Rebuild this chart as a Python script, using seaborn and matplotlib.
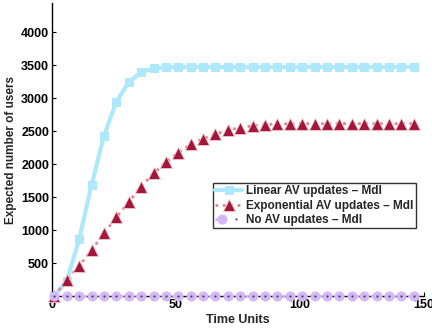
import matplotlib
matplotlib.use("Agg")
import matplotlib.pyplot as plt
import seaborn as sns
import pandas as pd
from matplotlib.legend_handler import HandlerTuple

sns.set_style("white")
plt.rcParams['font.family'] = ['Liberation Sans', 'DejaVu Sans']
plt.rcParams['font.weight'] = 'bold'

time_units = [1, 6, 11, 16, 21, 26, 31, 36, 41, 46, 51, 56, 61, 66, 71,
              76, 81, 86, 91, 96, 101, 106, 111, 116, 121, 126, 131, 136, 141, 146]
linear_av = [0, 230, 859, 1682, 2424, 2944, 3242, 3389, 3450, 3465, 3470, 3470, 3470, 3470, 3470,
             3470, 3470, 3470, 3470, 3470, 3470, 3470, 3470, 3470, 3470, 3470, 3470, 3470, 3470, 3470]
exponential_av = [0, 242, 455, 697, 950, 1192, 1424, 1656, 1859, 2030, 2172, 2298, 2384, 2450, 2515,
                  2550, 2580, 2598, 2607, 2610, 2612, 2612, 2612, 2612, 2612, 2612, 2612, 2612, 2612, 2612]
no_av = [0] * 30
labels = ["Linear AV updates \u2013 Mdl", "Exponential AV updates \u2013 Mdl", "No AV updates \u2013 Mdl"]
y_ticks = [500, 1000, 1500, 2000, 2500, 3000, 3500, 4000]
x_ticks = [0, 50, 100, 150]

df = pd.DataFrame({"t": time_units, "lin": linear_av, "exp": exponential_av, "none": no_av})

fig = plt.figure(figsize=(4.32, 3.33), dpi=100)
ax = fig.add_axes([0.120, 0.111, 0.861, 0.880])

cyan = "#ADE9FB"
red = "#A3173A"
pink = "#E5838F"
purple = "#D5B6F7"

sns.lineplot(data=df, x="t", y="lin", ax=ax, color=cyan, linewidth=3, marker="s",
             markersize=5.5, markeredgecolor=cyan, markerfacecolor=cyan, clip_on=False)
sns.lineplot(data=df, x="t", y="exp", ax=ax, color=pink, linewidth=2, linestyle=":",
             marker="^", markersize=9, markerfacecolor=red, markeredgecolor="#F2C9CF",
             markeredgewidth=0.6, clip_on=False)
sns.lineplot(data=df, x="t", y="none", ax=ax, color=purple, linewidth=2, linestyle=":",
             marker="o", markersize=6.5, markerfacecolor=purple, markeredgecolor=purple,
             clip_on=False, zorder=3)
sns.lineplot(data=df, x="t", y="none", ax=ax, color="#555555", linewidth=0, marker=".",
             markersize=1.6, markeredgecolor="#444444", clip_on=False, zorder=4)

lines = ax.get_lines()
handles = [lines[0], lines[1], (lines[2], lines[3])]

fs = 9
ax.set_xlim(0, 150)
ax.set_ylim(0, 4440)
ax.set_xticks(x_ticks)
ax.set_yticks(y_ticks)
ax.set_xticklabels([str(v) for v in x_ticks], fontsize=fs, fontweight='bold')
ax.set_yticklabels([str(v) for v in y_ticks], fontsize=fs, fontweight='bold')
ax.tick_params(direction='in', length=3, width=0.8, colors='black', pad=2,
               bottom=True, left=True)
for s in ["top", "right"]:
    ax.spines[s].set_visible(False)
for s in ["left", "bottom"]:
    ax.spines[s].set_color("black")
    ax.spines[s].set_linewidth(1.0)

ax.set_xlabel("Time Units", fontsize=fs, fontweight='bold', labelpad=2)
ax.set_ylabel("Expected number of users", fontsize=8.5, fontweight='bold', labelpad=3)

leg = ax.legend(handles, labels, loc="upper left", bbox_to_anchor=(0.433, 0.386),
                borderaxespad=0, fancybox=False, frameon=True, fontsize=8.5,
                handlelength=2.3, handletextpad=0.3, labelspacing=0.2,
                borderpad=0.2, handler_map={tuple: HandlerTuple(ndivide=None, pad=0)})
leg.get_frame().set_edgecolor("black")
leg.get_frame().set_linewidth(1.0)
for t in leg.get_texts():
    t.set_fontweight('bold')

fig.savefig("out.png", dpi=100)
